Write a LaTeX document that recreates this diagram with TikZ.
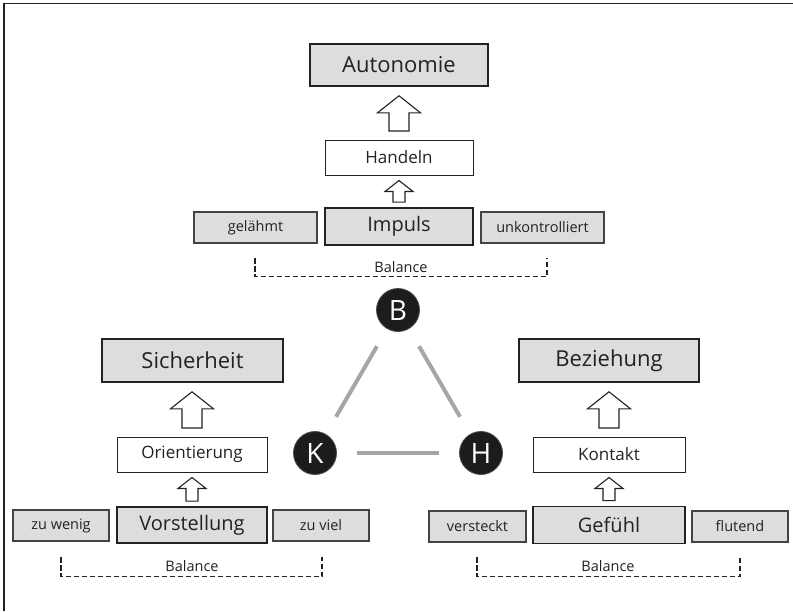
\documentclass[tikz,border=0pt]{standalone}
\usepackage{fontspec}
\setmainfont{Open Sans}
\usetikzlibrary{calc}
\definecolor{boxgray}{HTML}{DDDDDD}
\definecolor{ink}{HTML}{222222}
\definecolor{linegray}{HTML}{A6A6A6}
\definecolor{ballfill}{HTML}{1C1C1C}
\newcommand\blkarrow[6]{%
  \draw[blockarr] let \p1=(#1.north), \p2=(#2.south) in
    (\x1-#4,\y1+#6) -- (\x1+#4,\y1+#6) -- (\x1+#4,\y2-#6-#5) -- (\x1+#3,\y2-#6-#5)
    -- (\x1,\y2-#6) -- (\x1-#3,\y2-#6-#5) -- (\x1-#4,\y2-#6-#5) -- cycle;}
\newcommand\balancebr[4]{% left x, right x, top y, bottom y
  \draw[bracket] (#1,#3) -- (#1,#4) -- (#2,#4) -- (#2,#3);}
\tikzset{
  goalbox/.style={draw=ink, line width=2.6pt, fill=boxgray, text=ink, inner sep=0pt,
    font=\fontsize{22}{24}\selectfont},
  midbox/.style={draw=ink, line width=1pt, fill=white, text=ink, inner sep=0pt,
    font=\fontsize{17}{19}\selectfont},
  corebox/.style={draw=ink, line width=1.8pt, fill=boxgray, text=ink, inner sep=0pt,
    font=\fontsize{20}{22}\selectfont},
  sidebox/.style={draw=ink!85, line width=1.1pt, fill=boxgray, text=ink, inner sep=0pt,
    font=\fontsize{14.5}{16}\selectfont},
  ball/.style={circle, fill=ballfill, draw=black!70, line width=0.8pt, minimum size=43pt,
    inner sep=0pt, text=white, font=\fontsize{28}{30}\selectfont},
  tri/.style={draw=linegray, line width=4pt, shorten <=20pt, shorten >=20pt},
  blockarr/.style={draw=ink, line width=1.1pt, fill=white, line join=miter},
  bracket/.style={draw=ink, line width=1.8pt, dash pattern=on 5.5pt off 2.5pt},
  baltext/.style={text=ink, inner sep=0pt, font=\fontsize{14.5}{16}\selectfont},
}
\begin{document}
\begin{tikzpicture}[x=1pt, y=-1pt]
\useasboundingbox (0,0) rectangle (793,611);
\fill[white] (0,0) rectangle (793,611);
\draw[ink, line width=1.3pt] (4,611) -- (4,3.5) -- (793,3.5);

% ---------- top group ----------
\node[goalbox, minimum width=178pt, minimum height=42pt] (auto) at (399,65) {Autonomie};
\node[midbox, minimum width=148pt, minimum height=35pt] (handeln) at (399,157.5) {Handeln};
\node[corebox, minimum width=148pt, minimum height=37pt] (impuls) at (399,226.5) {Impuls};
\node[sidebox, minimum width=123pt, minimum height=31pt] (gel) at (255.5,227.5) {gelähmt};
\node[sidebox, minimum width=123pt, minimum height=31pt] (unk) at (542.5,227.5) {unkontrolliert};
\blkarrow{handeln}{auto}{21.5pt}{10pt}{17pt}{8.5pt}
\blkarrow{impuls}{handeln}{14pt}{6pt}{11pt}{5pt}
\balancebr{255}{547}{258}{276.5}
\node[baltext] (bal1) at (401,267) {Balance};

% ---------- triangle ----------
\node[ball] (B) at (398,310) {B};
\node[ball] (K) at (315,453) {K};
\node[ball] (H) at (481,453) {H};
\draw[tri] (B) -- (K);
\draw[tri] (B) -- (H);
\draw[tri] (K) -- (H);

% ---------- left group ----------
\node[goalbox, minimum width=181pt, minimum height=43pt] (sich) at (192.5,360.5) {Sicherheit};
\node[midbox, minimum width=150pt, minimum height=35pt] (orient) at (192,454.5) {Orientierung};
\node[corebox, minimum width=150pt, minimum height=36pt] (vorst) at (192,525) {Vorstellung};
\node[sidebox, minimum width=96pt, minimum height=31pt] (wenig) at (61,525.5) {zu wenig};
\node[sidebox, minimum width=96pt, minimum height=31pt] (viel) at (321,525.5) {zu viel};
\blkarrow{orient}{sich}{21.5pt}{10pt}{17pt}{8.5pt}
\blkarrow{vorst}{orient}{14pt}{6pt}{11pt}{5pt}
\balancebr{61}{322}{557}{576.5}
\node[baltext] (bal2) at (192,566) {Balance};

% ---------- right group ----------
\node[goalbox, minimum width=180pt, minimum height=43pt] (bez) at (609,360.5) {Beziehung};
\node[midbox, minimum width=152pt, minimum height=35pt] (kont) at (609,454.5) {Kontakt};
\node[corebox, minimum width=152pt, minimum height=37pt] (gef) at (609,525) {Gefühl};
\node[sidebox, minimum width=97pt, minimum height=31pt] (vers) at (477.5,526.5) {versteckt};
\node[sidebox, minimum width=96pt, minimum height=31pt] (flut) at (740,526.5) {flutend};
\blkarrow{kont}{bez}{21.5pt}{10pt}{17pt}{8.5pt}
\blkarrow{gef}{kont}{14pt}{6pt}{11pt}{5pt}
\balancebr{477}{740}{557}{576.5}
\node[baltext] (bal3) at (608,566) {Balance};
\end{tikzpicture}
\end{document}
